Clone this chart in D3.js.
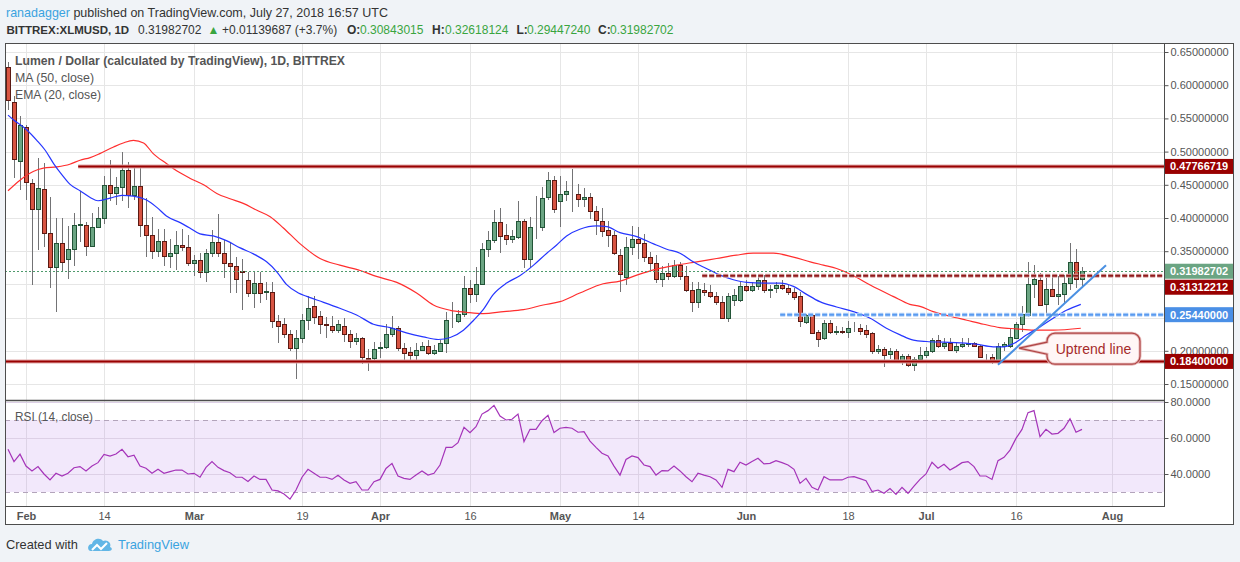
<!DOCTYPE html>
<html>
<head>
<meta charset="utf-8">
<title>Lumen / Dollar, 1D, BITTREX</title>
<style>
body { margin: 0; background: #f0f3f7; }
svg { display: block; font-family: "Liberation Sans", Arial, sans-serif; }
.axis text { fill: #555; font-size: 11px; }
.axis .domain { display: none; }
.axis line { stroke: #555; }
.grid line { stroke: #e6e6e6; shape-rendering: crispEdges; }
.wick { stroke: #737375; shape-rendering: crispEdges; }
.up { fill: #6ba583; stroke: #225437; shape-rendering: crispEdges; }
.down { fill: #d75442; stroke: #5b1a13; shape-rendering: crispEdges; }
.ma { fill: none; stroke: #ff2e2e; stroke-width: 1.2px; }
.ema { fill: none; stroke: #2636ff; stroke-width: 1.2px; }
.rsi { fill: none; stroke: #a534b9; stroke-width: 1.2px; }
</style>
</head>
<body>
<script src="https://d3js.org/d3.v7.min.js"></script>
<script>
// ---- data ----
var firstDay = "2018-01-29";   // first candle, one per day

var openP = [
  .627,.575,.486,.537,.452,.413,.443,.377,.326,.362,
  .338,.353,.390,.390,.358,.386,.400,.449,.438,.447,
  .473,.434,.448,.389,.375,.350,.366,.343,.348,.359,
  .356,.332,.337,.318,.347,.364,.347,.332,.328,.320,
  .306,.287,.302,.289,.289,.245,.240,.226,.204,.220,
  .247,.267,.252,.240,.238,.232,.238,.226,.215,.220,
  .189,.189,.204,.205,.225,.234,.204,.198,.193,.201,
  .207,.196,.200,.211,.246,.245,.255,.294,.285,.300,
  .353,.367,.394,.375,.368,.372,.395,.338,.386,.387,
  .431,.457,.425,.436,.441,.436,.428,.431,.411,.395,
  .382,.375,.345,.311,.357,.368,.362,.342,.332,.308,
  .317,.313,.329,.312,.292,.273,.292,.288,.283,.273,
  .250,.276,.276,.297,.292,.298,.307,.291,.295,.299,
  .295,.289,.282,.244,.254,.228,.219,.242,.229,.230,
  .229,.234,.234,.231,.227,.199,.202,.195,.199,.185,
  .192,.179,.187,.193,.200,.216,.207,.212,.201,.207,
  .210,.211,.207,.191,.191,.185,.207,.207,.220,.240,
  .254,.300,.306,.270,.293,.283,.286,.302,.333,.30843015
];
var highP = [
  .635,.583,.554,.540,.459,.490,.483,.432,.400,.400,
  .388,.408,.440,.394,.408,.416,.463,.487,.462,.500,
  .484,.479,.479,.430,.401,.383,.383,.368,.380,.383,
  .374,.345,.347,.354,.382,.406,.367,.362,.342,.339,
  .319,.320,.318,.304,.303,.254,.249,.231,.231,.256,
  .282,.282,.260,.251,.252,.247,.249,.232,.227,.221,
  .202,.214,.214,.240,.252,.237,.212,.206,.212,.214,
  .216,.209,.217,.258,.274,.261,.312,.307,.326,.363,
  .380,.412,.415,.391,.382,.426,.399,.402,.433,.447,
  .470,.463,.463,.455,.474,.451,.445,.438,.418,.415,
  .396,.380,.353,.371,.388,.387,.376,.349,.345,.327,
  .332,.337,.334,.328,.304,.304,.302,.299,.289,.283,
  .287,.293,.304,.306,.304,.313,.314,.299,.304,.306,
  .299,.294,.289,.256,.255,.231,.247,.246,.237,.236,
  .245,.244,.240,.239,.229,.209,.206,.204,.202,.195,
  .195,.191,.205,.206,.220,.224,.220,.219,.214,.219,
  .220,.214,.209,.195,.195,.211,.214,.233,.244,.267,
  .333,.329,.317,.309,.313,.312,.314,.362,.353,.32618124
];
var lowP = [
  .563,.460,.442,.427,.299,.352,.357,.295,.259,.318,
  .308,.327,.364,.343,.356,.385,.391,.425,.420,.425,
  .415,.427,.372,.342,.339,.342,.328,.324,.321,.351,
  .327,.312,.309,.303,.342,.342,.309,.287,.287,.261,
  .281,.264,.272,.276,.235,.212,.219,.199,.157,.211,
  .231,.241,.225,.219,.227,.227,.214,.204,.209,.180,
  .170,.186,.189,.202,.221,.199,.186,.186,.186,.199,
  .194,.194,.199,.196,.234,.242,.251,.272,.274,.299,
  .342,.362,.347,.359,.362,.369,.324,.324,.369,.380,
  .427,.407,.386,.425,.409,.417,.417,.399,.374,.372,
  .357,.344,.289,.299,.344,.339,.334,.322,.302,.296,
  .306,.309,.307,.289,.259,.264,.282,.279,.269,.249,
  .244,.267,.273,.288,.288,.292,.287,.279,.287,.292,
  .284,.277,.236,.241,.225,.205,.216,.226,.224,.226,
  .220,.229,.224,.219,.195,.195,.175,.187,.183,.179,
  .176,.169,.185,.189,.197,.204,.202,.199,.197,.204,
  .205,.205,.189,.185,.180,.180,.199,.204,.219,.229,
  .251,.279,.267,.255,.282,.269,.272,.292,.294,.29447240
];
var closeP = [
  .578,.489,.540,.454,.413,.445,.377,.326,.362,.334,
  .353,.389,.391,.358,.386,.400,.449,.438,.446,.473,
  .435,.448,.390,.375,.350,.366,.343,.348,.359,.356,
  .332,.337,.318,.347,.364,.347,.332,.328,.308,.319,
  .287,.302,.287,.290,.245,.238,.226,.204,.220,.247,
  .265,.251,.240,.239,.232,.240,.226,.215,.220,.190,
  .188,.203,.205,.225,.234,.204,.196,.193,.201,.207,
  .196,.201,.211,.246,.247,.255,.294,.285,.300,.353,
  .367,.394,.373,.368,.373,.395,.338,.386,.387,.430,
  .457,.413,.436,.440,.440,.428,.431,.411,.397,.380,
  .375,.348,.315,.357,.368,.362,.341,.332,.308,.317,
  .313,.329,.312,.291,.273,.293,.288,.283,.273,.250,
  .283,.284,.298,.292,.298,.307,.291,.293,.299,.295,
  .288,.281,.245,.254,.227,.218,.242,.229,.230,.229,
  .234,.235,.230,.225,.199,.203,.194,.199,.185,.192,
  .179,.187,.193,.200,.216,.207,.211,.201,.207,.210,
  .211,.207,.190,.190,.185,.207,.210,.221,.240,.255,
  .300,.308,.269,.293,.283,.286,.302,.333,.308,.31982702
];

// MA (50) and EMA (20) read at points, x given as candle index
var maIdx = [0,2,4.2,5.9,8.1,10.3,12,13.7,15.3,17.6,19.2,20.9,22.6,24.2,26.4,28.1,30.3,32.6,34.8,37,
  39.2,41.4,43.7,45.9,48.7,52,55.3,58.7,61.4,64.8,68.1,70.9,73.7,76.4,79.2,82.6,85.9,89.2,92,95.3,
  99.2,102,104.8,108.1,111.4,114.8,118.1,121.4,124.2,127.6,130.9,133.7,135.9,138.1,140.9,143.7,147.5,150.3,152,154.2,
  157,159.8,162.6,165.3,168.1,170.9,174.2,178.8];
var maVal = [.441,.457,.470,.475,.477,.481,.487,.491,.497,.507,.513,.517,.513,.497,.482,.471,.460,.450,.437,.429,
  .422,.412,.402,.385,.361,.339,.329,.321,.312,.303,.287,.269,.261,.258,.256,.259,.262,.269,.274,.287,
  .301,.305,.314,.323,.329,.334,.339,.344,.347,.347,.341,.334,.329,.324,.313,.299,.282,.270,.267,.259,
  .252,.246,.240,.235,.233,.231,.231,.234];
var emaIdx = [0,0.9,3.1,4.8,6.2,7.6,9.0,10.3,12,13.7,15,17,19,20.9,23.1,24.8,26.4,28.7,30.3,32,
  34.2,36.4,38.7,40.9,43.1,44.8,46.4,48.4,49.8,52.6,55.3,58.1,60.9,63.7,66.4,69.2,71.7,73.7,75.9,77.6,
  79.2,80.9,83.1,85.3,87.6,89.8,91.4,93.1,95.3,98.1,99.8,102,104.8,107.6,109.8,112,114.2,116.4,118.7,120.9,
  123.1,125.9,128.7,130.9,133.1,135.3,138.1,140.9,143.7,146.4,148.7,150.9,153.1,155.9,158.7,161.4,164.2,165.9,167.6,169.8,
  172,174.2,176.4,178.8];
var emaVal = [.555,.548,.533,.517,.502,.482,.465,.451,.441,.431,.426,.430,.434,.433,.427,.416,.403,.393,.385,.376,
  .373,.366,.355,.346,.334,.319,.300,.287,.282,.273,.264,.254,.240,.235,.227,.221,.217,.220,.231,.246,
  .262,.285,.302,.313,.329,.347,.359,.373,.383,.388,.387,.378,.372,.361,.353,.347,.334,.324,.314,.307,
  .303,.302,.302,.297,.285,.274,.266,.259,.249,.234,.224,.216,.214,.213,.212,.210,.206,.206,.211,.224,
  .236,.249,.261,.270];

// RSI (14), one value per candle
var rsiVal = [
  53.7,46.9,51.0,44.4,41.7,44.1,40.0,36.7,40.4,38.9,
  40.4,43.5,44.1,41.7,44.4,46.3,50.9,50.0,51.1,53.7,
  49.6,50.4,44.4,43.2,40.4,42.6,40.4,41.3,42.2,42.2,
  40.0,40.4,38.2,43.7,46.9,43.7,41.9,40.7,38.2,38.2,
  35.8,38.9,37.0,37.0,31.1,30.6,28.9,26.0,31.1,38.2,
  42.6,40.4,38.2,38.2,37.0,39.3,36.7,34.8,35.7,31.1,
  31.1,35.7,37.0,43.1,45.9,38.9,37.6,37.0,39.4,41.7,
  39.4,40.4,45.0,54.8,54.8,57.4,65.9,63.0,66.3,73.3,
  75.2,78.1,72.2,70.0,70.4,73.3,58.0,64.8,64.8,69.6,
  72.6,63.0,65.4,65.9,65.4,63.2,63.5,58.3,54.8,51.5,
  50.0,44.4,39.4,48.1,50.0,49.1,45.0,44.1,39.4,41.9,
  41.7,44.4,41.7,38.5,35.7,40.4,39.4,38.5,36.7,32.6,
  42.6,41.3,46.5,45.0,46.9,48.7,45.6,45.9,47.4,46.3,
  45.0,42.6,34.8,37.6,32.6,31.1,38.5,36.7,36.7,36.7,
  38.2,38.5,37.4,36.3,30.2,31.1,29.3,31.9,28.7,32.6,
  29.3,33.3,37.0,40.0,46.5,43.2,45.4,42.2,44.1,46.3,
  46.9,44.1,38.9,38.9,37.0,47.4,49.3,53.3,59.8,64.8,
  74.1,75.2,60.7,64.8,62.2,62.6,65.4,70.7,63.2,64.8
];

// drawn levels: price and the candle index where each starts
var levelPrice = [0.47766719, 0.31312212, 0.25440000, 0.18400000];
var levelStart = [11.7, 115.7, 128.7, -3];
var trendIdx = [165, 183], trendPrice = [0.179, 0.329];
var noteIdx = 168.5, notePrice = 0.204, noteText = "Uptrend line";

var priceTicks = [0.15,0.20,0.25,0.30,0.35,0.40,0.45,0.50,0.55,0.60,0.65];
var rsiTicks = [40, 60, 80];
var dateTicks = ["2018-02-01","2018-02-14","2018-03-01","2018-03-19","2018-04-01","2018-04-16",
  "2018-05-01","2018-05-14","2018-06-01","2018-06-18","2018-07-01","2018-07-16","2018-08-01"];
var dateLabels = ["Feb","14","Mar","19","Apr","16","May","14","Jun","18","Jul","16","Aug"];

// ---- layout ----
var W = 1240, H = 562;
var L = 5, R = 1164, T = 43, SEP = 400, B = 506, FR = 1234, FB = 525;

var svg = d3.select("body").append("svg").attr("width", W).attr("height", H);

var day0 = d3.utcParse("%Y-%m-%d")(firstDay).getTime();
function idxDate(i) { return new Date(day0 + i * 864e5); }
var x = d3.scaleUtc()
  .domain([d3.utcParse("%Y-%m-%d")("2018-02-01"), d3.utcParse("%Y-%m-%d")("2018-08-01")])
  .range([26, 1112]);
function xi(i) { return x(idxDate(i)); }
var y = d3.scaleLinear().domain([0.15, 0.65]).range([384, 52]);
var yr = d3.scaleLinear().domain([30, 80]).range([492, 402]);

var defs = svg.append("defs");
defs.append("clipPath").attr("id", "clipPrice").append("rect")
  .attr("x", L).attr("y", T).attr("width", R - L).attr("height", SEP - T);
defs.append("clipPath").attr("id", "clipRsi").append("rect")
  .attr("x", L).attr("y", SEP).attr("width", R - L).attr("height", B - SEP);

// white chart area
svg.append("rect").attr("x", L).attr("y", T).attr("width", FR - L).attr("height", FB - T).attr("fill", "#fff");

// grid
var grid = svg.append("g").attr("class", "grid");
grid.selectAll(".vg").data(dateTicks).join("line")
  .attr("x1", d => Math.round(x(new Date(d))) + 0.5).attr("x2", d => Math.round(x(new Date(d))) + 0.5)
  .attr("y1", T).attr("y2", B);
grid.selectAll(".hg").data(priceTicks).join("line")
  .attr("x1", L).attr("x2", R)
  .attr("y1", d => Math.round(y(d)) + 0.5).attr("y2", d => Math.round(y(d)) + 0.5);

// RSI pane background band and guides
var rp = svg.append("g").attr("clip-path", "url(#clipRsi)");
rp.append("rect").attr("x", L).attr("width", R - L)
  .attr("y", yr(70)).attr("height", yr(30) - yr(70))
  .attr("fill", "#b06ee8").attr("opacity", 0.16);
rp.selectAll(".rg").data(rsiTicks).join("line")
  .attr("x1", L).attr("x2", R)
  .attr("y1", d => Math.round(yr(d)) + 0.5).attr("y2", d => Math.round(yr(d)) + 0.5)
  .attr("stroke", "#ddd0e6");
rp.selectAll(".rb").data([70, 30]).join("line")
  .attr("x1", L).attr("x2", R)
  .attr("y1", d => Math.round(yr(d)) + 0.5).attr("y2", d => Math.round(yr(d)) + 0.5)
  .attr("stroke", "#b3a4bb").attr("stroke-dasharray", "5,4");
rp.append("path").datum(rsiVal).attr("class", "rsi")
  .attr("d", d3.line().x((d, i) => xi(i)).y(d => yr(d)));

// candles
var candles = d3.range(closeP.length).map(function (i) {
  return { i: i, o: openP[i], h: highP[i], l: lowP[i], c: closeP[i] };
});
var pp = svg.append("g").attr("clip-path", "url(#clipPrice)");
pp.selectAll(".wick").data(candles).join("line").attr("class", "wick")
  .attr("x1", d => Math.round(xi(d.i)) + 0.5).attr("x2", d => Math.round(xi(d.i)) + 0.5)
  .attr("y1", d => y(d.h)).attr("y2", d => y(d.l));
pp.selectAll(".body").data(candles).join("rect")
  .attr("class", d => d.c >= d.o ? "up" : "down")
  .attr("x", d => Math.round(xi(d.i)) - 1.5).attr("width", 4)
  .attr("y", d => Math.round(y(Math.max(d.o, d.c))) + 0.5)
  .attr("height", d => Math.max(0, Math.round(y(Math.min(d.o, d.c))) - Math.round(y(Math.max(d.o, d.c)))));

// moving averages
var avgLine = d3.line().x(d => xi(d[0])).y(d => y(d[1])).curve(d3.curveMonotoneX);
pp.append("path").datum(d3.zip(maIdx, maVal)).attr("class", "ma").attr("d", avgLine);
pp.append("path").datum(d3.zip(emaIdx, emaVal)).attr("class", "ema").attr("d", avgLine);

// levels
var lastClose = closeP[closeP.length - 1];
pp.append("line").attr("x1", L).attr("x2", R)
  .attr("y1", Math.round(y(lastClose)) + 0.5).attr("y2", Math.round(y(lastClose)) + 0.5)
  .attr("stroke", "#4e9a6c").attr("stroke-dasharray", "2,2");

var levelStyle = [
  { core: "#990000", halo: "#e2aaaa", dash: null, box: "#990000" },
  { core: "#8e1b1b", halo: "#dcaaaa", dash: "5,2", box: "#990000" },
  { core: "#5a9bf0", halo: "#b9d5fa", dash: "5,2", box: "#4a8fe6" },
  { core: "#990000", halo: "#e2aaaa", dash: null, box: "#990000" }
];
levelPrice.forEach(function (p, k) {
  var st = levelStyle[k], yy = y(p);
  pp.append("line").attr("x1", xi(levelStart[k])).attr("x2", R).attr("y1", yy).attr("y2", yy)
    .attr("stroke", st.halo).attr("stroke-width", 4).attr("stroke-dasharray", st.dash);
  pp.append("line").attr("x1", xi(levelStart[k])).attr("x2", R).attr("y1", yy).attr("y2", yy)
    .attr("stroke", st.core).attr("stroke-width", 2).attr("stroke-dasharray", st.dash);
});

// uptrend line
pp.append("line")
  .attr("x1", xi(trendIdx[0])).attr("y1", y(trendPrice[0]))
  .attr("x2", xi(trendIdx[1])).attr("y2", y(trendPrice[1]))
  .attr("stroke", "#4a90e2").attr("stroke-width", 2);

// callout
(function () {
  var tx = xi(noteIdx), ty = y(notePrice);
  var bx = tx + 28, bw = 93, bh = 31, by = ty - 15, r = 8;
  var d = "M" + (bx + r) + "," + by + "H" + (bx + bw - r) +
    "A" + r + "," + r + " 0 0 1 " + (bx + bw) + "," + (by + r) + "V" + (by + bh - r) +
    "A" + r + "," + r + " 0 0 1 " + (bx + bw - r) + "," + (by + bh) + "H" + (bx + r) +
    "A" + r + "," + r + " 0 0 1 " + bx + "," + (by + bh - r) + "V" + (by + 21) +
    "L" + tx + "," + ty + "L" + bx + "," + (by + 9) + "V" + (by + r) +
    "A" + r + "," + r + " 0 0 1 " + (bx + r) + "," + by + "Z";
  svg.append("path").attr("d", d).attr("fill", "#fff6f6")
    .attr("stroke", "#e7b9b9").attr("stroke-width", 3);
  svg.append("path").attr("d", d).attr("fill", "none")
    .attr("stroke", "#b04646").attr("stroke-width", 1.2);
  svg.append("text").attr("x", bx + bw / 2).attr("y", by + bh / 2 + 5)
    .attr("text-anchor", "middle").attr("fill", "#a52a2a").attr("font-size", 14).text(noteText);
})();

// pane frames
svg.append("rect").attr("x", L + 0.5).attr("y", T + 0.5).attr("width", FR - L - 1).attr("height", FB - T - 1)
  .attr("fill", "none").attr("stroke", "#4d4d4d");
svg.append("line").attr("x1", R + 0.5).attr("x2", R + 0.5).attr("y1", T).attr("y2", B).attr("stroke", "#4d4d4d");
svg.append("line").attr("x1", L).attr("x2", R).attr("y1", SEP + 0.5).attr("y2", SEP + 0.5)
  .attr("stroke", "#4d4d4d").attr("stroke-width", 1.5);
svg.append("line").attr("x1", L).attr("x2", R + 1).attr("y1", B + 0.5).attr("y2", B + 0.5).attr("stroke", "#4d4d4d");

// price labels on the axis, pushed apart when they overlap
var tags = levelPrice.map(function (p, k) { return { p: p, color: levelStyle[k].box }; });
tags.push({ p: lastClose, color: "#6ba583" });
tags.forEach(t => { t.y = y(t.p); });
tags.sort((a, b) => a.y - b.y);
for (var k = 1; k < tags.length; k++) {
  if (tags[k].y - tags[k - 1].y < 16) tags[k].y = tags[k - 1].y + 16;
}

// axes (tick labels hidden where a price tag sits on them)
var ya = svg.append("g").attr("class", "axis").attr("transform", "translate(" + (R + 0.5) + ",0)")
  .call(d3.axisRight(y).tickValues(priceTicks).tickSize(4).tickPadding(2).tickFormat(d3.format(".8f")));
ya.selectAll(".tick text").filter(d => tags.some(t => Math.abs(t.y - y(d)) < 9)).remove();
svg.append("g").attr("class", "axis").attr("transform", "translate(" + (R + 0.5) + ",0)")
  .call(d3.axisRight(yr).tickValues(rsiTicks).tickSize(4).tickPadding(2).tickFormat(d3.format(".4f")));
var xa = svg.append("g").attr("class", "axis").attr("transform", "translate(0," + B + ")")
  .call(d3.axisBottom(x).tickValues(dateTicks.map(d => new Date(d))).tickSize(0).tickPadding(6)
    .tickFormat((d, i) => dateLabels[i]));
xa.selectAll("text").attr("font-weight", (d, i) => isNaN(+dateLabels[i]) ? "bold" : null);

var tg = svg.append("g");
tg.selectAll("rect").data(tags).join("rect")
  .attr("x", R + 1).attr("width", FR - R - 2).attr("y", d => d.y - 7.5).attr("height", 15)
  .attr("fill", d => d.color);
tg.selectAll("text").data(tags).join("text")
  .attr("x", R + 6).attr("y", d => d.y + 4).attr("fill", "#fff")
  .attr("font-size", 11).attr("font-weight", "bold")
  .text(d => d3.format(".8f")(d.p));

// titles
var hdr = svg.append("g").attr("font-size", 13).attr("fill", "#333");
var h1 = hdr.append("text").attr("x", 6).attr("y", 17)
  .attr("textLength", 382).attr("lengthAdjust", "spacingAndGlyphs");
h1.append("tspan").attr("fill", "#3ba3e0").text("ranadagger");
h1.append("tspan").text(" published on TradingView.com, July 27, 2018 16:57 UTC");

var green = "#3aa53f";
var h2 = hdr.append("text").attr("y", 34).attr("font-size", 12);
[["BITTREX:XLMUSD, 1D", 6.5, "bold", null, 11.5], ["0.31982702", 138, null, null], ["\u25B2", 207.5, null, green],
 ["+0.01139687 (+3.7%)", 222, null, null], ["O:", 347, "bold", null], ["0.30843015", 360, null, green],
 ["H:", 432, "bold", null], ["0.32618124", 445, null, green], ["L:", 516.5, "bold", null], ["0.29447240", 527, null, green],
 ["C:", 598, "bold", null], ["0.31982702", 610, null, green]].forEach(function (s) {
  h2.append("tspan").attr("x", s[1]).attr("font-weight", s[2]).attr("fill", s[3])
    .attr("font-size", s[4] || null).text(s[0]);
});

var lg = svg.append("g").attr("fill", "#555");
lg.append("text").attr("x", 15).attr("y", 65).attr("font-size", 13).attr("font-weight", "bold")
  .attr("textLength", 330).attr("lengthAdjust", "spacingAndGlyphs")
  .text("Lumen / Dollar (calculated by TradingView), 1D, BITTREX");
lg.append("text").attr("x", 15).attr("y", 82).attr("font-size", 13)
  .attr("textLength", 79).attr("lengthAdjust", "spacingAndGlyphs").text("MA (50, close)");
lg.append("text").attr("x", 15).attr("y", 99).attr("font-size", 13)
  .attr("textLength", 86).attr("lengthAdjust", "spacingAndGlyphs").text("EMA (20, close)");
lg.append("text").attr("x", 15).attr("y", 421).attr("font-size", 13)
  .attr("textLength", 78).attr("lengthAdjust", "spacingAndGlyphs").text("RSI (14, close)");

// footer
svg.append("text").attr("x", 6).attr("y", 549).attr("font-size", 13).attr("fill", "#333")
  .attr("textLength", 72).attr("lengthAdjust", "spacingAndGlyphs").text("Created with");
var logo = svg.append("g").attr("transform", "translate(88,537)");
logo.append("path").attr("fill", "#62b6e6")
  .attr("d", "M3,14 C-1,14 -1,7 4,7 C5,2 12,0 15,4 C19,2 24,6 22,10 C25,11 24,14 21,14 Z");
logo.append("polyline").attr("points", "4,13 9,8 13,12 19,6").attr("fill", "none")
  .attr("stroke", "#fff").attr("stroke-width", 2);
svg.append("text").attr("x", 118).attr("y", 549).attr("font-size", 13).attr("fill", "#3ba3e0")
  .attr("textLength", 71).attr("lengthAdjust", "spacingAndGlyphs").text("TradingView");
</script>
</body>
</html>
